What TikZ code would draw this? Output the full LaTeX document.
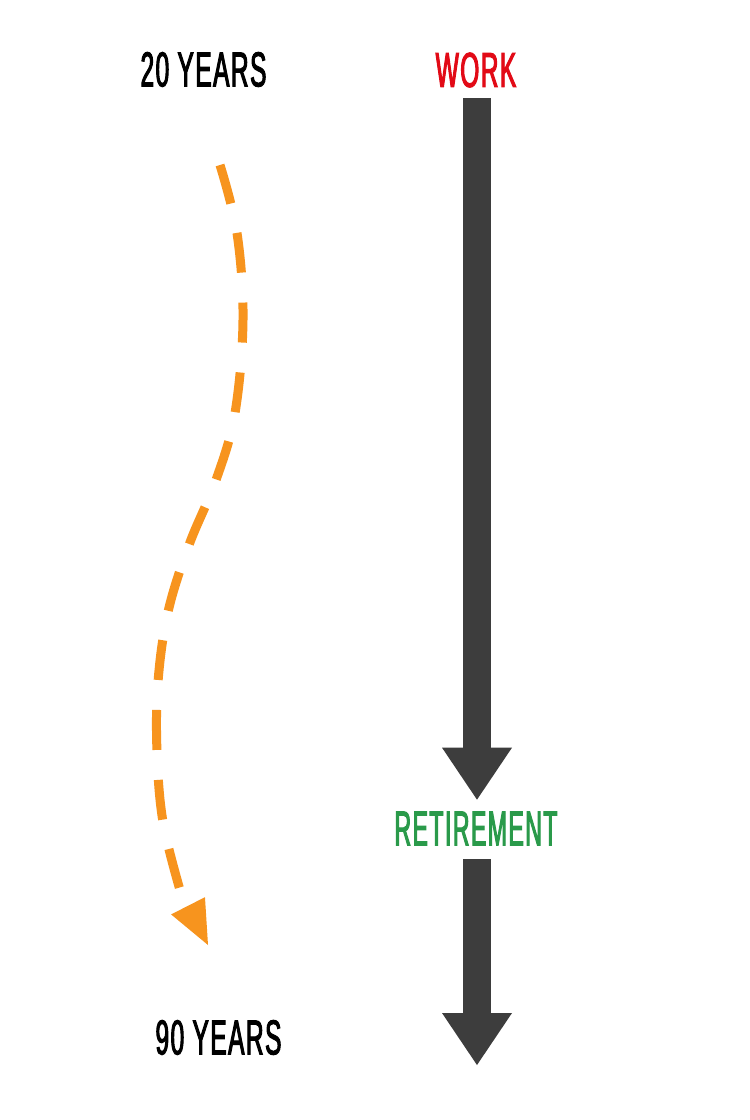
\documentclass[tikz,border=0pt]{standalone}
\usepackage{fontspec}
\usetikzlibrary{arrows.meta}
\newfontfamily\condfont[FakeStretch=0.5,LetterSpace=3,FakeBold=2]{Liberation Sans}
\newfontfamily\condfontnarrow[FakeStretch=0.47,LetterSpace=3,FakeBold=2]{Liberation Sans}
\definecolor{workred}{RGB}{226,10,22}
\definecolor{retgreen}{RGB}{42,154,74}
\definecolor{darkarrow}{RGB}{61,61,61}
\definecolor{curveorange}{RGB}{247,148,30}
\begin{document}
\begin{tikzpicture}[x=1pt,y=-1pt,
  bigtext/.style={inner sep=0pt, outer sep=0pt, font=\condfont\fontsize{49}{49}\selectfont},
  bigarrow/.style={draw=darkarrow, line width=28pt, -{Triangle[width=70pt,length=52pt,line width=0pt]}},
  orangedash/.style={draw=curveorange, line width=9pt, dash pattern=on 40pt off 30pt,
    -{Triangle[width=38pt,length=44pt,line width=0pt]}}]
\fill[white] (0,0) rectangle (750,1120);
\useasboundingbox (0,0) rectangle (750,1120);

\node[bigtext] (y20) at (203.5,69.5) {20 YEARS};
\node[bigtext, text=workred] (work) at (476,70) {WORK};
\node[bigtext, text=retgreen, font=\condfontnarrow\fontsize{49}{49}\selectfont] (ret) at (476,828.5) {RETIREMENT};
\node[bigtext] (y90) at (218.5,1037.5) {90 YEARS};

\coordinate (end2) at (477,1065);
\coordinate (cs) at (220,165);
\coordinate (ce) at (208,945);

\draw[bigarrow] ([xshift=1pt,yshift=-11pt]work.south) -- ([xshift=1pt,yshift=12pt]ret.north);
\draw[bigarrow] ([xshift=1pt,yshift=-14pt]ret.south) -- (end2);

\draw[orangedash] plot[smooth, tension=0.6] coordinates {(cs) (237,233) (243,320) (235,413) (216,480) (189,545) (168,612) (158,682) (157,752) (163,822) (180,890)} -- (ce);
\end{tikzpicture}
\end{document}
